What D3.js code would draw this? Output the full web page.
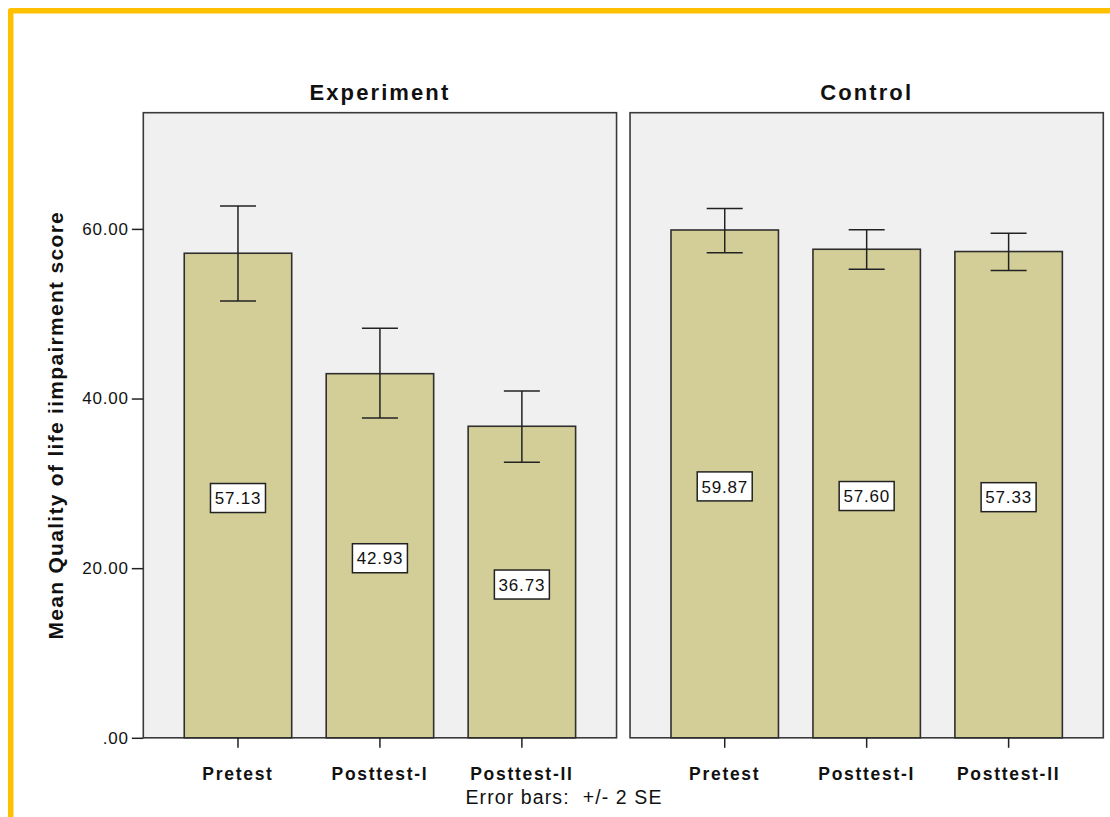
<!DOCTYPE html>
<html>
<head>
<meta charset="utf-8">
<script src="https://cdn.jsdelivr.net/npm/d3@7"></script>
<style>
  html, body { margin: 0; padding: 0; background: #ffffff; }
  svg { display: block; }
  text { font-family: "Liberation Sans", Arial, sans-serif; fill: #111; }
</style>
</head>
<body>
<svg id="chart" width="1110" height="817"></svg>
<script>
// Groups (panels) and measurement phases (bars within each panel)
const groups = ["Experiment", "Control"];
const phases = ["Pretest", "Posttest-I", "Posttest-II"];

// Mean Quality of life impairment score per phase
const experimentMeans = [57.13, 42.93, 36.73];
const controlMeans = [59.87, 57.60, 57.33];

// Error bar ends (mean +/- 2 SE)
const experimentLower = [51.5, 37.7, 32.5];
const experimentUpper = [62.7, 48.3, 40.9];
const controlLower = [57.2, 55.25, 55.1];
const controlUpper = [62.4, 59.9, 59.5];

// Y axis ticks and their labels
const yTickValues = [0, 20, 40, 60];
const yTickLabels = [".00", "20.00", "40.00", "60.00"];
const yMax = 73.7;

const rows = groups.map((g, gi) => ({
  group: g,
  bars: phases.map((p, pi) => ({
    phase: p,
    mean: gi === 0 ? experimentMeans[pi] : controlMeans[pi],
    lo: gi === 0 ? experimentLower[pi] : controlLower[pi],
    hi: gi === 0 ? experimentUpper[pi] : controlUpper[pi]
  }))
}));

const svg = d3.select("#chart");

// Frame lines along top and left edges
svg.append("path")
  .attr("d", "M10.7,817 L10.7,10.7 L1110,10.7")
  .attr("fill", "none")
  .attr("stroke", "#FFC000")
  .attr("stroke-width", 5.5)
  .attr("stroke-linejoin", "round");

const plotTop = 112.7, plotBottom = 737.8;
const y = d3.scaleLinear().domain([0, yMax]).range([plotBottom, plotTop]);

const panelX = d3.scaleBand().domain(groups).range([143.3, 1103.3]).paddingInner(0.0277);
const barX = d3.scaleBand().domain(phases).range([0, panelX.bandwidth()])
  .paddingInner(0.243).paddingOuter(0.2885);

const panels = svg.selectAll("g.panel").data(rows).join("g")
  .attr("class", "panel")
  .attr("transform", d => `translate(${panelX(d.group)},0)`);

// Panel background
panels.append("rect")
  .attr("x", 0).attr("y", plotTop)
  .attr("width", panelX.bandwidth()).attr("height", plotBottom - plotTop)
  .attr("fill", "#F0F0F0")
  .attr("stroke", "#3a3a3a").attr("stroke-width", 1.6);

// Panel titles
panels.append("text")
  .attr("x", panelX.bandwidth() / 2).attr("y", 100)
  .attr("text-anchor", "middle")
  .style("font-size", "22px").style("font-weight", "bold")
  .style("letter-spacing", "2.1px")
  .text(d => d.group);

// Bars
const barG = panels.selectAll("g.bar").data(d => d.bars).join("g").attr("class", "bar");

barG.append("rect")
  .attr("x", d => barX(d.phase))
  .attr("y", d => y(d.mean))
  .attr("width", barX.bandwidth())
  .attr("height", d => y(0) - y(d.mean))
  .attr("fill", "#D3CE97")
  .attr("stroke", "#2f2f2f").attr("stroke-width", 1.6);

// Error bars
const capW = 36;
barG.append("line")
  .attr("x1", d => barX(d.phase) + barX.bandwidth() / 2)
  .attr("x2", d => barX(d.phase) + barX.bandwidth() / 2)
  .attr("y1", d => y(d.lo)).attr("y2", d => y(d.hi))
  .attr("stroke", "#222").attr("stroke-width", 1.5);
barG.selectAll("line.cap").data(d => [[d, d.lo], [d, d.hi]]).join("line")
  .attr("class", "cap")
  .attr("x1", ([d]) => barX(d.phase) + barX.bandwidth() / 2 - capW / 2)
  .attr("x2", ([d]) => barX(d.phase) + barX.bandwidth() / 2 + capW / 2)
  .attr("y1", ([, v]) => y(v)).attr("y2", ([, v]) => y(v))
  .attr("stroke", "#222").attr("stroke-width", 1.5);

// Value labels in boxes at the middle of each bar
const lab = barG.append("g")
  .attr("transform", d => `translate(${barX(d.phase) + barX.bandwidth() / 2},${y(d.mean / 2) + 2.5})`);
lab.append("rect")
  .attr("x", -27.5).attr("y", -14.5).attr("width", 55).attr("height", 29)
  .attr("fill", "#fff").attr("stroke", "#222").attr("stroke-width", 1.5);
lab.append("text")
  .attr("text-anchor", "middle").attr("dy", "0.36em")
  .style("font-size", "17px").style("letter-spacing", "0.8px")
  .text(d => d.mean.toFixed(2));

// Category axis in each panel
panels.each(function () {
  const ax = d3.select(this).append("g")
    .attr("transform", `translate(0,${plotBottom})`)
    .call(d3.axisBottom(barX).tickSize(10).tickSizeOuter(0));
  ax.select(".domain").remove();
  ax.selectAll(".tick line").attr("stroke", "#222").attr("stroke-width", 1.5);
  ax.selectAll(".tick text")
    .attr("y", 29.5)
    .style("font-family", "'Liberation Sans', Arial, sans-serif")
    .style("font-size", "17.5px").style("font-weight", "bold")
    .style("letter-spacing", "1.7px").attr("fill", "#111");
});

// Y axis on the left panel
const yAxis = svg.append("g")
  .attr("transform", `translate(${panelX(groups[0])},0)`)
  .call(d3.axisLeft(y).tickValues(yTickValues)
    .tickFormat((v, i) => yTickLabels[i]).tickSize(11.5).tickPadding(3));
yAxis.select(".domain").remove();
yAxis.selectAll(".tick line").attr("stroke", "#222").attr("stroke-width", 1.5);
yAxis.selectAll(".tick text")
  .style("font-family", "'Liberation Sans', Arial, sans-serif")
  .style("font-size", "17px").style("letter-spacing", "0.8px").attr("fill", "#111");

// Y axis title
svg.append("text")
  .attr("transform", `translate(63,${(plotTop + plotBottom) / 2}) rotate(-90)`)
  .attr("text-anchor", "middle")
  .style("font-size", "21px").style("font-weight", "bold")
  .style("letter-spacing", "1.3px")
  .text("Mean Quality of life iimpairment score");

// Footnote
svg.append("text")
  .attr("x", 564).attr("y", 804)
  .attr("text-anchor", "middle")
  .style("font-size", "19.5px").style("letter-spacing", "1.1px")
  .attr("fill", "#222")
  .attr("xml:space", "preserve")
  .text("Error bars:  +/- 2 SE");
</script>
</body>
</html>
